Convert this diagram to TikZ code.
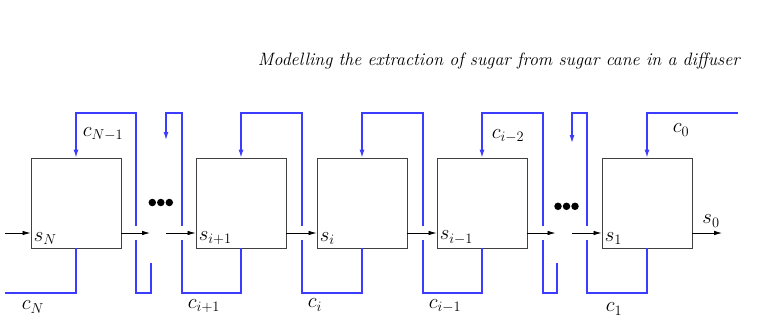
\documentclass[tikz,border=0pt]{standalone}
\usetikzlibrary{arrows.meta}
\definecolor{juice}{RGB}{60,60,255}
\begin{document}
\begin{tikzpicture}[x=1pt,y=-1pt,
 stage/.style={draw=black!75, line width=0.85pt, minimum width=90pt, minimum height=90pt, inner sep=0pt},
 flow/.style={-{Latex[length=8pt,width=4.5pt]}, line width=0.8pt},
 liq/.style={juice, line width=1.2pt},
 liqarr/.style={liq, -{Latex[length=8pt,width=5pt]}},
 lab/.style={font=\fontsize{20}{24}\selectfont, inner sep=0pt},
 inlab/.style={lab, anchor=south west, inner xsep=3pt, inner ysep=4pt},
 dot/.style={fill=black, draw=none, circle, minimum size=7.5pt, inner sep=0pt},
 ]
\useasboundingbox (0,0) rectangle (767,324);

% title
\node[anchor=base east, inner sep=0pt, font=\itshape\fontsize{17.9}{21}\selectfont] (title) at (740,65)
  {Modelling the extraction of sugar from sugar cane in a diffuser};

% stages
\node[stage] (bN)  at (76,203) {};
\node[stage] (bip) at (241,203) {};
\node[stage] (bi)  at (362,203) {};
\node[stage] (bim) at (482,203) {};
\node[stage] (b1)  at (647,203) {};

\node[inlab] (sN)  at (bN.south west)  {$s_N$};
\node[inlab] (sip) at (bip.south west) {$s_{i+1}$};
\node[inlab] (si)  at (bi.south west)  {$s_i$};
\node[inlab] (sim) at (bim.south west) {$s_{i-1}$};
\node[inlab] (s1)  at (b1.south west)  {$s_1$};

% solids flow
\coordinate (inN) at (5,233);
\coordinate (oN)  at (150,233);
\coordinate (iip) at (166,233);
\coordinate (oim) at (555.5,233);
\coordinate (i1)  at (572,233);
\coordinate (o1)  at (722,233);
\draw[flow] (inN) -- (bN.west |- inN);
\draw[flow] (bN.east |- inN) -- (oN);
\draw[flow] (iip) -- (bip.west |- iip);
\draw[flow] (bip.east |- iip) -- (bi.west |- iip);
\draw[flow] (bi.east |- iip) -- (bim.west |- iip);
\draw[flow] (bim.east |- iip) -- (oim);
\draw[flow] (i1) -- (b1.west |- i1);
\draw[flow] (b1.east |- o1) -- (o1);
\node[lab] (s0) at (711,221) {$s_0$};

% juice flow
\coordinate (cNend) at (5,293);
\draw[liq] (bN.south) |- (cNend);
\draw[liqarr] (136,226) |- (bN.north |- 0,113) -- (bN.north);
\draw[liq] (136,240) |- (151,293) -- (151,263);
\draw[liqarr] (182,226) |- (166,113) -- (166,140);
\draw[liq] (182,240) |- (bip.south |- 0,293) -- (bip.south);
\draw[liqarr] (302,226) |- (bip.north |- 0,113) -- (bip.north);
\draw[liq] (302,240) |- (bi.south |- 0,293) -- (bi.south);
\draw[liqarr] (423,226) |- (bi.north |- 0,113) -- (bi.north);
\draw[liq] (423,240) |- (bim.south |- 0,293) -- (bim.south);
\draw[liqarr] (543,226) |- (bim.north |- 0,113) -- (bim.north);
\draw[liq] (543,240) |- (557,293) -- (557,263);
\draw[liqarr] (587,226) |- (572,113) -- (572,143);
\draw[liq] (587,240) |- (b1.south |- 0,293) -- (b1.south);
\coordinate (c0start) at (738,113);
\draw[liqarr] (c0start) -- (b1.north |- c0start) -- (b1.north);

% labels
\node[lab] (cNm) at (103,134) {$c_{N-1}$};
\node[lab] (cN)  at (33,307)  {$c_N$};
\node[lab] (cip) at (204,306) {$c_{i+1}$};
\node[lab] (ci)  at (315,305) {$c_i$};
\node[lab] (cim) at (445,306) {$c_{i-1}$};
\node[lab] (cimm) at (508,136) {$c_{i-2}$};
\node[lab] (c1)  at (614,309) {$c_1$};
\node[lab] (c0)  at (681,130) {$c_0$};

% ellipses
\node[dot] (d1) at (152.3,202.5) {};
\node[dot] (d2) at (160.8,202.5) {};
\node[dot] (d3) at (169.3,202.5) {};
\node[dot] (d4) at (558,206.3) {};
\node[dot] (d5) at (566.5,206.3) {};
\node[dot] (d6) at (575,206.3) {};
\end{tikzpicture}
\end{document}
